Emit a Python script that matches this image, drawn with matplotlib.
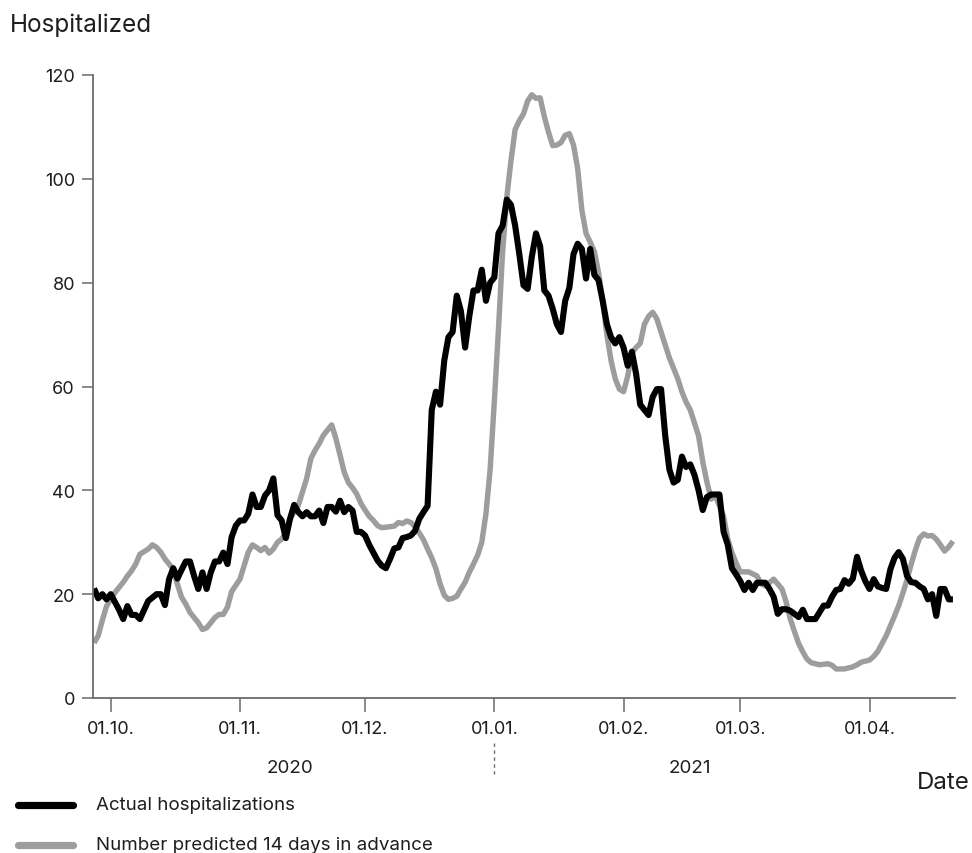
import numpy as np
import matplotlib
matplotlib.use("Agg")
import matplotlib.pyplot as plt
import matplotlib.dates as mdates
from matplotlib.lines import Line2D

plt.rcParams['font.family'] = ['Inter', 'DejaVu Sans']

# days counted from 27.09.2020
start = np.datetime64('2020-09-27')

actual_day = [0, 1, 2, 3, 4, 6, 7, 8, 9, 10, 11, 13, 15, 16, 17, 18, 19, 20,
              21, 22, 23, 24, 25, 26, 27, 28, 29, 30, 31, 32, 33, 34, 35, 36,
              37, 38, 39, 40, 41, 42, 43, 44, 45, 46, 47, 48, 49, 50, 51, 52,
              53, 54, 55, 56, 57, 58, 59, 60, 61, 62, 63, 64, 65, 66, 67, 68,
              69, 70, 71, 72, 73, 74, 75, 76, 77, 78, 79, 80, 81, 82, 83, 84,
              85, 86, 87, 88, 89, 90, 91, 92, 93, 94, 95, 96, 97, 98, 99, 100,
              101, 102, 103, 104, 105, 106, 107, 108, 109, 110, 111, 112, 113,
              114, 115, 116, 117, 118, 119, 120, 121, 122, 123, 124, 125, 126,
              127, 128, 129, 130, 131, 132, 133, 134, 135, 136, 137, 138, 139,
              140, 141, 142, 143, 144, 145, 146, 147, 148, 149, 150, 151, 152,
              153, 154, 155, 156, 157, 158, 159, 160, 161, 162, 163, 164, 165,
              166, 167, 168, 169, 170, 171, 172, 173, 174, 175, 176, 177, 178,
              179, 180, 181, 182, 183, 184, 185, 186, 187, 188, 189, 190, 191,
              192, 193, 194, 195, 196, 197, 198, 199, 200, 201, 202, 203, 204,
              205, 206]
actual = [21.1, 19.2, 20, 19, 20, 17, 15.2, 17.7, 16, 16, 15.2, 18.7, 20, 20,
          17.9, 22.9, 25, 23, 24.7, 26.3, 26.3, 23.5, 21, 24.2, 21, 24.2, 26.3,
          26.3, 28, 25.8, 31, 33.2, 34.2, 34.2, 35.5, 39.2, 36.8, 36.8, 39, 40,
          42.3, 35.2, 34.2, 30.8, 34.5, 37.2, 35.8, 35, 35.8, 35, 35, 36.1,
          33.7, 36.8, 36.8, 35.9, 38, 35.8, 36.8, 36.1, 32, 32, 31.3, 29.5, 28,
          26.5, 25.5, 25, 26.8, 28.8, 29, 30.8, 31, 31.3, 32.2, 34.5, 35.8, 37,
          55.5, 59, 56.5, 65, 69.5, 70.5, 77.5, 74.5, 67.5, 73.5, 78.5, 78.5,
          82.5, 76.5, 80, 81, 89.5, 91, 96, 95, 91, 85.5, 79.5, 78.8, 85, 89.5,
          87, 78.5, 77.5, 75, 72, 70.5, 76.5, 79, 85.5, 87.5, 86.5, 80.8, 86.5,
          81.5, 80.5, 76.5, 72, 69.5, 68.3, 69.5, 67.5, 64, 66.7, 62.5, 56.5,
          55.5, 54.5, 58, 59.5, 59.5, 50.5, 44, 41.5, 42, 46.5, 44.5, 45, 43,
          40, 36.2, 38.7, 39.2, 39.2, 39.2, 32, 29.5, 25, 23.8, 22.5, 20.8,
          22.2, 20.8, 22.2, 22.2, 22.2, 21, 19.5, 16.2, 17.1, 17.1, 16.8, 16.2,
          15.6, 17, 15.2, 15.2, 15.2, 16.5, 17.8, 17.8, 19.5, 20.8, 21, 22.7,
          22, 23, 27.2, 24.5, 22.5, 21, 22.9, 21.5, 21.2, 21, 24.8, 27, 28.1,
          26.8, 23.5, 22.3, 22.2, 21.5, 21, 19, 20, 15.8, 21, 21, 19, 19]

predicted_day = [0, 1, 2, 3, 5, 7, 8, 9, 10, 11, 13, 14, 15, 16, 17, 19, 20, 21,
                 22, 23, 25, 26, 27, 28, 29, 30, 31, 32, 33, 35, 36, 37, 38, 39,
                 40, 41, 42, 43, 44, 45, 46, 47, 49, 50, 51, 52, 53, 54, 55, 56,
                 57, 58, 59, 60, 61, 62, 63, 64, 65, 66, 67, 68, 69, 70, 71, 72,
                 73, 74, 75, 76, 77, 78, 79, 80, 81, 82, 83, 84, 85, 86, 87, 88,
                 89, 90, 91, 92, 93, 94, 95, 96, 97, 98, 99, 100, 101, 102, 103,
                 104, 105, 106, 107, 108, 109, 110, 111, 112, 113, 114, 115, 116,
                 117, 118, 119, 120, 121, 122, 123, 124, 125, 126, 127, 128, 129,
                 130, 131, 132, 133, 134, 135, 136, 137, 138, 139, 140, 141, 142,
                 143, 144, 145, 146, 147, 148, 149, 150, 151, 152, 153, 154, 155,
                 157, 159, 160, 161, 162, 163, 165, 166, 167, 168, 169, 170, 171,
                 172, 174, 176, 177, 178, 180, 182, 183, 184, 186, 187, 188, 189,
                 190, 191, 192, 193, 194, 195, 196, 197, 198, 199, 200, 201, 202,
                 203, 204, 205, 206]
predicted = [10.6, 12, 15, 17.7, 20.3, 22.3, 23.5, 24.5, 25.8, 27.7, 28.7, 29.5,
             29, 28.1, 26.8, 24.8, 21.9, 19.4, 18.1, 16.5, 14.5, 13.2, 13.5,
             14.5, 15.5, 16.1, 16.1, 17.5, 20.5, 22.9, 25.5, 28.1, 29.5, 29,
             28.4, 29, 27.9, 28.7, 30, 30.6, 31.9, 34.5, 37.1, 39.7, 42.3, 46.1,
             47.7, 49, 50.6, 51.6, 52.6, 50, 46.8, 43.5, 41.5, 40.5, 39.3, 37.5,
             36.2, 35, 34.2, 33.2, 32.8, 32.9, 33, 33.1, 33.8, 33.6, 34.1, 33.8,
             33, 31.8, 30.5, 28.7, 27, 24.9, 22, 19.8, 19, 19.2, 19.6, 21, 22.3,
             24.2, 25.8, 27.5, 30, 35.5, 44, 57, 71, 86, 96.5, 103.5, 109.5,
             111.2, 112.5, 115, 116.2, 115.5, 115.6, 112, 109, 106.4, 106.5, 107,
             108.4, 108.7, 106.5, 102, 94, 89.5, 87.8, 86, 82, 76.5, 70, 65,
             61.5, 59.5, 59, 62, 66.5, 67.5, 68.3, 72, 73.5, 74.3, 73, 70.5, 68,
             65.5, 63.5, 61.5, 59, 57, 55.5, 53, 50.5, 45.5, 41.6, 38.3, 39, 37,
             35, 30.6, 28, 26, 24.3, 24.3, 23.5, 22, 21.6, 22.2, 22.9, 21, 18.5,
             15.2, 12.8, 10.5, 8.9, 7.5, 6.8, 6.4, 6.6, 6.3, 5.6, 5.6, 6, 6.4,
             6.9, 7.3, 8, 9, 10.5, 12, 13.9, 15.8, 17.8, 20.2, 22.8, 25.8, 28.5,
             30.8, 31.6, 31.2, 31.3, 30.6, 29.5, 28.3, 29.1, 30.2]

month_ticks = ['2020-10-01', '2020-11-01', '2020-12-01', '2021-01-01',
               '2021-02-01', '2021-03-01', '2021-04-01']
y_ticks = [0, 20, 40, 60, 80, 100, 120]

black = '#000000'
grey = '#9d9d9d'
axis_grey = '#6b6b6b'
text_col = '#1e1e1e'

actual_dates = start + np.array(actual_day) * np.timedelta64(1, 'D')
predicted_dates = start + np.array(predicted_day) * np.timedelta64(1, 'D')

W, H = 972, 854
fig = plt.figure(figsize=(W / 100, H / 100), dpi=100)
ax = fig.add_axes([93 / W, 1 - 699 / H, (955 - 93) / W, (699 - 76) / H])

ax.plot(predicted_dates, predicted, color=grey, lw=3.9,
        solid_joinstyle='round', solid_capstyle='butt')
ax.plot(actual_dates, actual, color=black, lw=4.4,
        solid_joinstyle='round', solid_capstyle='butt')

x0 = start - np.timedelta64(6, 'h')
x1 = start + np.timedelta64(206 * 24 + 12, 'h')
ax.set_xlim(x0, x1)
ax.set_ylim(0, 120)

ax.set_xticks([np.datetime64(d) for d in month_ticks])
ax.xaxis.set_major_formatter(mdates.DateFormatter('%d.%m.'))
ax.set_yticks(y_ticks)

for side in ['top', 'right']:
    ax.spines[side].set_visible(False)
for side in ['left', 'bottom']:
    ax.spines[side].set_color(axis_grey)
    ax.spines[side].set_linewidth(1.3)

ax.tick_params(axis='x', length=10, width=1.1, color=axis_grey,
               labelsize=13, labelcolor=text_col, pad=6)
ax.tick_params(axis='y', length=8, width=1.1, color=axis_grey,
               labelsize=13, labelcolor=text_col, pad=5)

# year labels under the month ticks, split at new year
xt = ax.get_xaxis_transform()
ax.text(np.datetime64('2020-11-13'), -0.111, '2020', transform=xt,
        ha='center', va='center', fontsize=13.5, color=text_col)
ax.text(np.datetime64('2021-02-17'), -0.111, '2021', transform=xt,
        ha='center', va='center', fontsize=13.5, color=text_col)
ax.plot([np.datetime64('2021-01-01')] * 2, [-0.072, -0.122], transform=xt,
        clip_on=False, color=axis_grey, lw=1.0, ls=(0, (2.5, 2.5)))

fig.text(10 / W, 1 - 25 / H, 'Hospitalized', ha='left', va='center',
         fontsize=17.5, color=text_col)
fig.text(970 / W, 1 - 783 / H, 'Date', ha='right', va='center',
         fontsize=17.3, color=text_col)

# legend
legend_items = [('Actual hospitalizations', black, 806),
                ('Number predicted 14 days in advance', grey, 846)]
for label, col, yp in legend_items:
    fig.add_artist(Line2D([18 / W, 73 / W], [1 - yp / H, 1 - yp / H],
                          color=col, lw=5.2, solid_capstyle='round'))
    fig.text(96 / W, 1 - yp / H, label, ha='left', va='center',
             fontsize=13.5, color=text_col)

fig.savefig('out.png', dpi=100)
